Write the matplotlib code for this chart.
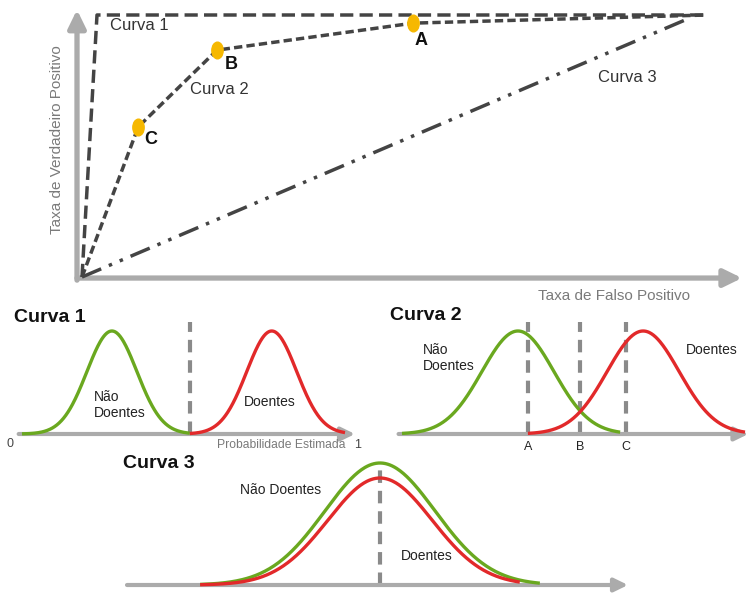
import numpy as np
import matplotlib
matplotlib.use("Agg")
import matplotlib.pyplot as plt
from matplotlib.path import Path
from matplotlib.transforms import Affine2D

plt.rcParams['font.family'] = ['Liberation Sans', 'DejaVu Sans']

W, H = 748, 594
fig = plt.figure(figsize=(W / 100, H / 100), dpi=100)

# ---------------- data ----------------
# ROC curves (false positive rate, true positive rate)
roc1_fpr = [0.0, 0.024, 1.0]
roc1_tpr = [0.0, 1.0, 1.0]
roc2_fpr = [0.0, 0.090, 0.216, 0.530, 1.0]
roc2_tpr = [0.0, 0.573, 0.866, 0.969, 1.0]
roc3_fpr = [0.0, 0.965]
roc3_tpr = [0.0, 0.981]
pts_labels = ['C', 'B', 'A']
pts_fpr = [0.090, 0.216, 0.530]
pts_tpr = [0.573, 0.866, 0.969]

# distributions: (mean, sigma, height, x_start, x_end) in panel units
c1_green = (0.270, 0.075, 1.0, 0.0, 0.504)
c1_red = (0.750, 0.075, 1.0, 0.504, 0.970)
c1_thresholds = [0.504]

c2_green = (0.338, 0.105, 1.0, 0.0, 0.636)
c2_red = (0.703, 0.105, 1.0, 0.367, 1.0)
c2_thresholds = [0.367, 0.519, 0.653]
c2_threshold_labels = ['A', 'B', 'C']

c3_green = (0.505, 0.110, 1.0, 0.146, 0.824)
c3_red = (0.505, 0.104, 0.877, 0.146, 0.784)
c3_thresholds = [0.505]

GREEN = '#6aa81f'
RED = '#e2292a'
AXGRAY = '#ababab'
DARK = '#444444'
DASHGRAY = '#8a8a8a'


def box(x0, y0, x1, y1):
    return [x0 / W, 1 - y1 / H, (x1 - x0) / W, (y1 - y0) / H]


def arrow(ax, p0, p1, lw=3.8, ms=24):
    ax.annotate('', xy=p1, xytext=p0, annotation_clip=False,
                arrowprops=dict(arrowstyle='-|>,head_length=0.45,head_width=0.22',
                                color=AXGRAY, lw=lw, shrinkA=0, shrinkB=0,
                                mutation_scale=ms))


def gauss(ax, params, color):
    m, s, h, a, b = params
    x = np.linspace(a, b, 300)
    y = h * np.exp(-0.5 * ((x - m) / s) ** 2)
    ax.plot(x, y, color=color, lw=2.4, solid_capstyle='butt', zorder=3, clip_on=False)


def panel(bx, xr=(0, 1)):
    ax = fig.add_axes(box(*bx))
    ax.set_xlim(*xr)
    ax.set_ylim(0, 1)
    ax.axis('off')
    return ax


# ---------------- ROC panel ----------------
ax = panel((82, 15, 707, 277))
arrow(ax, (-0.008, -0.004), (1.056, -0.004))
arrow(ax, (-0.008, -0.012), (-0.008, 1.02))
ax.plot(roc1_fpr, roc1_tpr, color=DARK, lw=2.5, ls=(0, (3.8, 1.8)), clip_on=False, zorder=3)
ax.plot(roc2_fpr, roc2_tpr, color=DARK, lw=2.5, ls=(0, (2.4, 1.2)), clip_on=False, zorder=3)
ax.plot(roc3_fpr, roc3_tpr, color=DARK, lw=2.5,
        ls=(0, (6.0, 2.4, 1.0, 2.4, 1.0, 2.4)), clip_on=False, zorder=3)
ell = Path.unit_circle().transformed(Affine2D().scale(0.68, 1.0))
ax.plot(pts_fpr, pts_tpr, ls='none', marker=ell, ms=12, color='#f6b800',
        mec='#f6b800', zorder=4, clip_on=False)
offs = [(0.020, -0.05), (0.022, -0.055), (0.013, -0.065)]
for lab, x, y, (dx, dy) in zip(pts_labels, pts_fpr, pts_tpr, offs):
    ax.text(x + dx, y + dy, lab, fontsize=13, fontweight='bold', ha='center',
            va='center', color='#111111')

fig.text(110 / W, 1 - 25 / H, 'Curva 1', fontsize=12, color='#333333', va='center')
fig.text(190 / W, 1 - 90 / H, 'Curva 2', fontsize=12, color='#333333', va='center')
fig.text(598 / W, 1 - 77 / H, 'Curva 3', fontsize=12, color='#333333', va='center')
fig.text(57 / W, 1 - 140 / H, 'Taxa de Verdadeiro Positivo', fontsize=11,
         color='#7a7a7a', rotation=90, ha='center', va='center')
fig.text(614 / W, 1 - 296 / H, 'Taxa de Falso Positivo', fontsize=11,
         color='#7a7a7a', ha='center', va='center')

# ---------------- Curva 1 panel ----------------
ax1 = panel((22, 331, 355, 434))
arrow(ax1, (-0.01, 0), (1.0, 0), lw=3, ms=18)
gauss(ax1, c1_green, GREEN)
gauss(ax1, c1_red, RED)
for t in c1_thresholds:
    ax1.plot([t, t], [0.0, 1.09], color=DASHGRAY, lw=3, ls=(0, (3.0, 1.9)),
             clip_on=False, zorder=2)
fig.text(14 / W, 1 - 318 / H, 'Curva 1', fontsize=14, fontweight='bold',
         color='#111111', va='center')
fig.text(120 / W, 1 - 405 / H, 'Não\nDoentes', fontsize=10, color='#222222',
         ha='center', va='center', multialignment='left', linespacing=1.1)
fig.text(270 / W, 1 - 402 / H, 'Doentes', fontsize=10, color='#222222',
         ha='center', va='center')
fig.text(10 / W, 1 - 444 / H, '0', fontsize=9, color='#444444', ha='center', va='center')
fig.text(358 / W, 1 - 445 / H, '1', fontsize=9, color='#444444', ha='center', va='center')
fig.text(281 / W, 1 - 445 / H, 'Probabilidade Estimada', fontsize=8.7,
         color='#7a7a7a', ha='center', va='center')

# ---------------- Curva 2 panel ----------------
ax2 = panel((402, 331, 745, 434))
arrow(ax2, (-0.01, 0), (1.01, 0), lw=3, ms=18)
gauss(ax2, c2_green, GREEN)
gauss(ax2, c2_red, RED)
for t, lab in zip(c2_thresholds, c2_threshold_labels):
    ax2.plot([t, t], [0.0, 1.09], color=DASHGRAY, lw=3, ls=(0, (3.0, 1.9)),
             clip_on=False, zorder=2)
    ax2.annotate(lab, xy=(t, 0), xytext=(0, -13), textcoords='offset pixels',
                 ha='center', va='center', fontsize=9, color='#222222',
                 annotation_clip=False)
fig.text(390 / W, 1 - 316 / H, 'Curva 2', fontsize=14, fontweight='bold',
         color='#111111', va='center')
fig.text(423 / W, 1 - 358 / H, 'Não\nDoentes', fontsize=10, color='#222222',
         ha='left', va='center', linespacing=1.1)
fig.text(686 / W, 1 - 350 / H, 'Doentes', fontsize=10, color='#222222',
         ha='left', va='center')

# ---------------- Curva 3 panel ----------------
ax3 = panel((127, 463, 628, 585))
arrow(ax3, (0.0, 0), (1.0, 0), lw=3, ms=18)
gauss(ax3, c3_green, GREEN)
gauss(ax3, c3_red, RED)
for t in c3_thresholds:
    ax3.plot([t, t], [0.0, 0.94], color=DASHGRAY, lw=3, ls=(0, (3.0, 1.9)),
             clip_on=False, zorder=2)
fig.text(123 / W, 1 - 463 / H, 'Curva 3', fontsize=14, fontweight='bold',
         color='#111111', va='center')
fig.text(240 / W, 1 - 490 / H, 'Não Doentes', fontsize=10, color='#222222',
         ha='left', va='center')
fig.text(401 / W, 1 - 556 / H, 'Doentes', fontsize=10, color='#222222',
         ha='left', va='center')

fig.savefig('out.png', dpi=100, facecolor='white')
